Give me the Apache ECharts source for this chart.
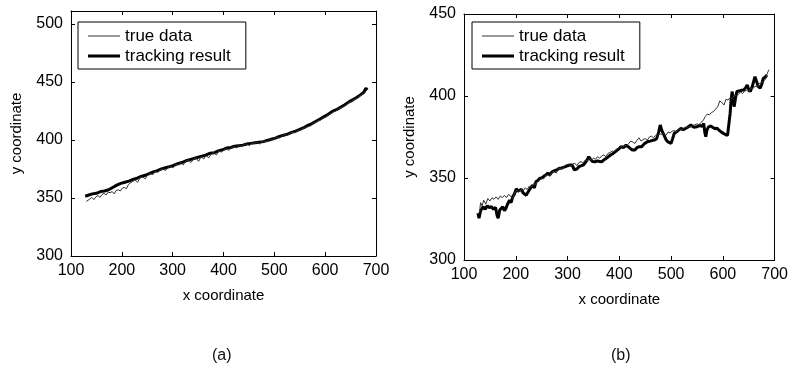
<!DOCTYPE html>
<html>
<head>
<meta charset="utf-8">
<script src="https://cdn.jsdelivr.net/npm/echarts@6/dist/echarts.min.js"></script>
<style>
html,body{margin:0;padding:0;background:#fff;}
#c{width:791px;height:371px;}
</style>
</head>
<body>
<div id="c"></div>
<script>
// ---------- data (a) ----------
const trueA_x = [130,133,137,141,145,149,153,157,161,165,169,173,177,181,185,189,193,197,201,205,209,213,217,221,226,231,236,241,246,251,256,261,266,271,276,281,286,291,296,301,306,311,316,321,326,331,336,341,346,351,356,361,366,371,376,381,386,391,396,401,406,411,416,421,426,431,436,441,446,451,456,461,466,471,476,481,486,491,496,501,506,511,516,521,526,531,536,541,546,551,556,561,566,571,576,581,586,591,596,601,606,611,616,621,626,631,636,641,646,651,656,661,666,671,676,681];
const trueA_y = [347,345.5,349,350.5,348.5,351,352,350.5,353,354,352.5,355,354.5,355.5,353.5,356.5,357,356,358.5,359,358,361.5,363,364,365.5,363.5,367.5,368,366.5,370,371,370,373,372,374.5,375,373.5,376.5,377,376,379,378.5,380.5,378.5,382,382.5,380.5,383.5,384.5,381.5,385.5,383.5,386.5,384.5,388,389,387,390.5,389.5,391.5,392.5,391,393.5,394,393,395.5,394.5,396,396.5,395,397.5,397,398,396.5,398.5,399,398.5,400.5,400,401.5,402.5,401.5,404,404.5,404,406,406.5,406,408.5,408,410,410.5,411.5,412,414,415,416.5,417,419,419.5,421.5,422.5,424,425,427,427.5,429,430,432,432.5,434.5,435.5,437.5,438.5,440,442];
const trackA_x = [128,135,142,150,158,166,174,182,190,198,206,214,222,230,238,246,254,262,270,278,286,294,302,310,318,326,334,342,350,358,366,374,382,390,398,406,414,422,430,438,446,454,462,470,478,486,494,502,510,518,526,534,542,550,558,566,574,582,590,598,606,614,622,630,638,646,654,662,670,676,680,683];
const trackA_y = [351.5,352.5,353.5,354,355.5,356,357,359,361,362.5,363.5,364.5,366,367,368.5,369.5,371,372.5,373.5,375,376,377,378,379.5,380.5,382,383,384,385,386,387,388.5,389,390.5,391.5,393,393.5,394.5,395,395.5,396.5,397,397.5,398,398.5,399.5,400.5,401.5,403,404,405,406.5,407.5,409,410.5,412.5,414,416,418,420,422,424.5,426,428,430,432.5,434.5,436.5,439,441,444.5,443];

// ---------- data (b) ----------
const trueB_x = [130,132,135,138,142,146,150,154,158,162,166,170,174,178,182,186,190,194,198,202,206,210,214,218,222,226,230,234,238,242,246,250,254,258,262,266,270,274,278,282,286,290,294,298,302,306,310,314,318,322,326,330,334,338,342,346,350,354,358,362,366,370,374,378,382,386,390,394,398,402,406,410,414,418,422,426,430,434,438,442,446,450,454,458,462,466,470,474,478,482,486,490,494,498,502,506,510,514,518,522,526,530,534,538,542,546,550,554,558,562,566,570,574,578,582,586,590,594,598,602,606,610,614,618,622,626,630,634,638,642,646,650,654,658,662,666,670,674,678,682,686,689];
const trueB_y = [329,335,333,336.5,334,337.5,336,338,337,338.5,337,339,338,339.5,338,340,339,337.5,341,342.5,341.5,343,342,344,343,345,344.5,346.5,346,348,348.5,350,349.5,351.5,352,351,353.5,354,353,355.5,356,355.5,357.5,358,358.5,357,358.5,359,357.5,359.5,360,359,361,360.5,362,361,362,361.5,363,362,363.5,364,363,365,365.5,366.5,366,367.5,368,369.5,368.5,370,369.5,371,372.5,372,371,373,374.5,372.5,373.5,374,373,375,375.5,374.5,376,375.5,377,376.5,377,376,378,377.5,378.5,379,378,379.5,380,379.5,381,380.5,381.5,381,382,382.5,383,382.5,384,385,387.5,389,388.5,390,390.5,392,393.5,397,396,394.5,398,397.5,399,398.5,400.5,400,401,402.5,401.5,403,403.5,402.5,405,404.5,406,405.5,407.5,408,409,410,414,416];
const trackB_x = [127,129,132,137,141,145,149,153,157,161,164,166,169,172,175,178,181,184,188,191,194,197,201,204,207,211,214,217,220,223,226,229,232,236,239,243,246,250,254,258,262,266,270,275,280,284,288,292,296,300,305,309,313,315,318,322,327,331,334,338,341,344,348,353,358,362,366,370,375,379,383,388,392,396,400,404,408,413,417,421,426,430,434,438,443,447,451,455,460,464,468,472,476,479,482,485,487,490,494,497,500,503,506,510,514,519,523,527,532,538,544,550,555,560,563,565,567,569,572,576,580,585,589,593,597,601,605,609,612,614,616,618,620,622,624,627,631,636,640,644,647,650,653,657,662,665,668,672,675,678,682,685];
const trackB_y = [328.5,325.5,330,332.5,331,333,332,332.5,331,332,327,325.5,330.5,331,332.5,330,331.5,334,336.5,335,338.5,340,343.5,342,342.7,343,341,342,339.5,341,342.7,342,345.5,344,347.8,348.5,349.8,350,351,351.8,353,352,353.8,354.5,355,355.9,356,356.5,356.9,357.5,358,357.9,355,353.8,355.5,356.9,357.5,358,359,361,363,361.5,360,359.9,360.5,360,359.9,361,362,363,364,365,366,367,368,369.1,368.5,370,369.1,368,367,367.1,368.5,369,369.1,370.5,371.5,372.2,372.5,373,373.2,374,378,382.3,379,377,376.2,373.5,372,371.5,371.1,374,377.2,378,379,380.3,379.5,380,381,382.3,381,381.3,382,381.5,383.3,378,375.2,379,381,381.7,381,380,380.3,379,378,377.2,376.5,376,376.2,389.4,398,402.7,397,393.5,398,402.7,403,403.5,403.7,405,406.7,404,402.7,406,411.8,409,406,404.7,407,410.8,411.5,412.8];

// ---------- axes / labels ----------
const xTicks = {min: 100, max: 700, interval: 100};
const yTicksA = {min: 300, max: 511, interval: 50};
const yTicksB = {min: 300, max: 450, interval: 50};
const xName = 'x coordinate';
const yName = 'y coordinate';
const names = ['true data', 'tracking result'];
const captions = ['(a)', '(b)'];

function zip(xs, ys) { return xs.map((x, i) => [x, ys[i]]); }

const FONT = 'Liberation Sans, Arial, Helvetica, sans-serif';
const axisCommonLine = {show: true, lineStyle: {color: '#000', width: 1}};
function xAx(grid, main) {
  return {
    type: 'value', gridIndex: grid, position: main ? 'bottom' : 'top',
    min: xTicks.min, max: xTicks.max, interval: xTicks.interval,
    axisLine: axisCommonLine,
    axisTick: {show: true, inside: true, length: 4, lineStyle: {color: '#000'}},
    axisLabel: {show: main, color: '#000', fontSize: 16, fontFamily: FONT, margin: 7},
    splitLine: {show: false},
    name: main ? xName : '', nameLocation: 'middle', nameGap: 32,
    nameTextStyle: {color: '#000', fontSize: 15, fontFamily: FONT}
  };
}
function yAx(grid, main, t) {
  return {
    type: 'value', gridIndex: grid, position: main ? 'left' : 'right',
    min: t.min, max: t.max, interval: t.interval,
    axisLine: axisCommonLine,
    axisTick: {show: true, inside: true, length: 4, lineStyle: {color: '#000'}},
    axisLabel: {show: main, color: '#000', fontSize: 16, fontFamily: FONT, margin: 8, showMaxLabel: t.max % t.interval === 0},
    splitLine: {show: false},
    name: main ? yName : '', nameLocation: 'middle', nameGap: 47,
    nameTextStyle: {color: '#000', fontSize: 15, fontFamily: FONT}
  };
}
function legend(left) {
  return {
    left: left, top: 22, orient: 'vertical',
    data: [
      {name: names[0], icon: 'path://M0,0 L32,0 L32,1 L0,1 Z', itemStyle: {color: '#333'}},
      {name: names[1], icon: 'path://M0,0 L32,0 L32,3 L0,3 Z', itemStyle: {color: '#000'}}
    ],
    borderColor: '#000', borderWidth: 1, borderRadius: 0,
    padding: [5, 15, 4, 10], itemGap: 2, itemWidth: 32, itemHeight: 14, itemTextGap: 8,
    textStyle: {color: '#000', fontSize: 17, fontFamily: FONT, lineHeight: 18},
    selectedMode: false
  };
}
function thin(name, data, xi, yi) {
  return {type: 'line', name: name, data: data, xAxisIndex: xi, yAxisIndex: yi,
    symbol: 'none', lineStyle: {color: '#333', width: 1}, itemStyle: {color: '#333'}, z: 3};
}
function thick(name, data, xi, yi) {
  return {type: 'line', name: name, data: data, xAxisIndex: xi, yAxisIndex: yi,
    symbol: 'none', lineStyle: {color: '#000', width: 3}, itemStyle: {color: '#000'}, z: 2};
}

const chart = echarts.init(document.getElementById('c'), null, {renderer: 'canvas'});
chart.setOption({
  animation: false,
  backgroundColor: '#fff',
  grid: [
    {left: 71, top: 11, width: 305, height: 245},
    {left: 464, top: 14, width: 314, height: 246}
  ],
  xAxis: [xAx(0, true), xAx(0, false), xAx(1, true), xAx(1, false)],
  yAxis: [yAx(0, true, yTicksA), yAx(0, false, yTicksA), yAx(1, true, yTicksB), yAx(1, false, yTicksB)],
  legend: [legend(78), legend(472)],
  series: [
    thin(names[0], zip(trueA_x, trueA_y), 0, 0),
    thick(names[1], zip(trackA_x, trackA_y), 0, 0),
    thin(names[0], zip(trueB_x, trueB_y), 2, 2),
    thick(names[1], zip(trackB_x, trackB_y), 2, 2)
  ],
  graphic: [
    {type: 'text', left: 212, top: 348, style: {text: captions[0], font: '16px ' + FONT, fill: '#111'}},
    {type: 'text', left: 611, top: 348, style: {text: captions[1], font: '16px ' + FONT, fill: '#111'}}
  ]
});
</script>
</body>
</html>
